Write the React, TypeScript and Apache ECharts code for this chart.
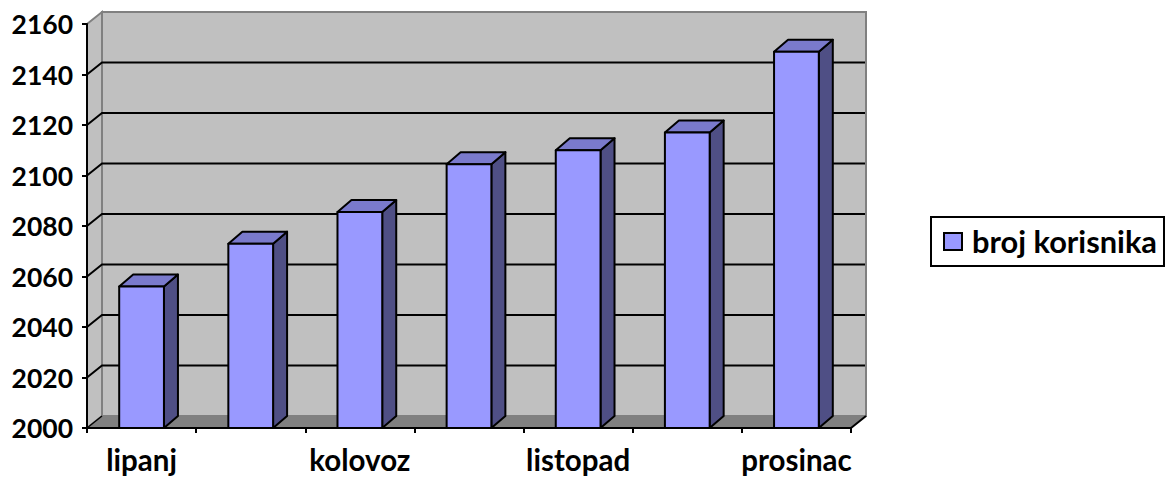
import React, { useEffect, useRef } from "react";
import * as echarts from "echarts";

const categories = ["lipanj", "srpanj", "kolovoz", "rujan", "listopad", "studeni", "prosinac"];
const userCounts = [2056, 2073, 2085.5, 2104.5, 2110, 2117, 2149];
const seriesName = "broj korisnika";
const yTicks = [2000, 2020, 2040, 2060, 2080, 2100, 2120, 2140, 2160];

const DX = 15;
const DY = 12;
const FONT = "Lato, Carlito, 'Open Sans', sans-serif";

export default function App() {
  const ref = useRef<HTMLDivElement>(null);
  useEffect(() => {
    if (!ref.current) return;
    const chart = echarts.init(ref.current, undefined, { renderer: "svg" });
    chart.setOption({
      animation: false,
      backgroundColor: "#ffffff",
      textStyle: { fontFamily: FONT },
      grid: { left: 87, top: 24, width: 764, height: 404, containLabel: false, outerBoundsMode: "none" },
      legend: {
        left: 931,
        top: 217,
        padding: [9, 7, 9, 12],
        backgroundColor: "#ffffff",
        borderColor: "#000000",
        borderWidth: 2,
        itemWidth: 18,
        itemHeight: 17,
        itemGap: 0,
        data: [{ name: seriesName, icon: "rect" }],
        textStyle: { color: "#000", fontSize: 30.8, fontWeight: "bold", fontFamily: FONT, padding: [0, 0, 0, 5] },
      },
      xAxis: {
        type: "category",
        data: categories,
        z: 10,
        axisLine: { lineStyle: { color: "#000", width: 2 } },
        axisTick: { show: true, interval: 0, length: 5, lineStyle: { color: "#000", width: 2 } },
        axisLabel: { interval: 1, margin: 19, lineHeight: 24, color: "#000", fontSize: 29.5, fontWeight: "bold", fontFamily: FONT },
        splitLine: { show: false },
      },
      yAxis: {
        type: "value",
        min: 2000,
        max: 2160,
        interval: 20,
        z: 10,
        axisLine: { show: true, lineStyle: { color: "#000", width: 2 } },
        axisTick: { show: true, length: 5, lineStyle: { color: "#000", width: 2 } },
        axisLabel: {
          margin: 14,
          color: "#000",
          fontSize: 26.5,
          fontWeight: "bold",
          fontFamily: FONT,
          padding: [3, 0, 0, 0],
          formatter: (v: number) => String(v),
        },
        splitLine: { show: false },
      },
      series: [
        {
          type: "custom",
          name: "walls",
          coordinateSystem: "cartesian2d",
          silent: true,
          z: 1,
          data: [[0, 2000]],
          encode: { x: 0, y: 1 },
          renderItem: (params: any, api: any) => {
            const cs = params.coordSys;
            const l = cs.x, r = cs.x + cs.width, t = cs.y, b = cs.y + cs.height;
            const children: any[] = [
              { type: "polygon", shape: { points: [[l + DX, t - DY], [r + DX, t - DY], [r + DX, b - DY], [l + DX, b - DY]] }, style: { fill: "#C0C0C0", stroke: "#808080", lineWidth: 2 } },
              { type: "polygon", shape: { points: [[l, t], [l + DX, t - DY], [l + DX, b - DY], [l, b]] }, style: { fill: "#C0C0C0", stroke: "#808080", lineWidth: 2 } },
              { type: "polygon", shape: { points: [[l, b], [r, b], [r + DX, b - DY], [l + DX, b - DY]] }, style: { fill: "#808080", stroke: "#808080", lineWidth: 1 } },
              { type: "line", shape: { x1: r, y1: b, x2: r + DX, y2: b - DY }, style: { stroke: "#000", lineWidth: 2 } },
              { type: "line", shape: { x1: l, y1: b, x2: l + DX, y2: b - DY }, style: { stroke: "#000", lineWidth: 1.5 } },
            ];
            yTicks.slice(1, -1).forEach((v) => {
              const y = api.coord([0, v])[1];
              children.push({ type: "polyline", shape: { points: [[l, y], [l + DX, y - DY], [r + DX - 1, y - DY]] }, style: { stroke: "#000", lineWidth: 2, fill: "none" } });
            });
            return { type: "group", children };
          },
        },
        {
          type: "custom",
          name: seriesName,
          coordinateSystem: "cartesian2d",
          z: 3,
          itemStyle: { color: "#9999FF", borderColor: "#000", borderWidth: 2 },
          data: categories.map((c, i) => [i, userCounts[i]]),
          encode: { x: 0, y: 1 },
          renderItem: (_params: any, api: any) => {
            const idx = api.value(0);
            const [cx, top] = api.coord([idx, api.value(1)]);
            const [, base] = api.coord([idx, 2000]);
            const w = api.size([1, 0])[0] * 0.41;
            const l = cx - w / 2, r = cx + w / 2;
            const dx = 14;
            const edge = { stroke: "#000", lineWidth: 2, lineJoin: "round" };
            return {
              type: "group",
              children: [
                { type: "polygon", shape: { points: [[r, top], [r + dx, top - DY], [r + dx, base - DY], [r, base]] }, style: { fill: "#4F4F85", ...edge } },
                { type: "polygon", shape: { points: [[l, top], [l + dx, top - DY], [r + dx, top - DY], [r, top]] }, style: { fill: "#7A7ACC", ...edge } },
                { type: "polygon", shape: { points: [[l, top], [r, top], [r, base], [l, base]] }, style: { fill: "#9999FF", ...edge } },
              ],
            };
          },
        },
      ],
    });
    return () => chart.dispose();
  }, []);
  return <div ref={ref} style={{ position: "absolute", left: 0, top: 0, width: 1166, height: 477 }} />;
}
